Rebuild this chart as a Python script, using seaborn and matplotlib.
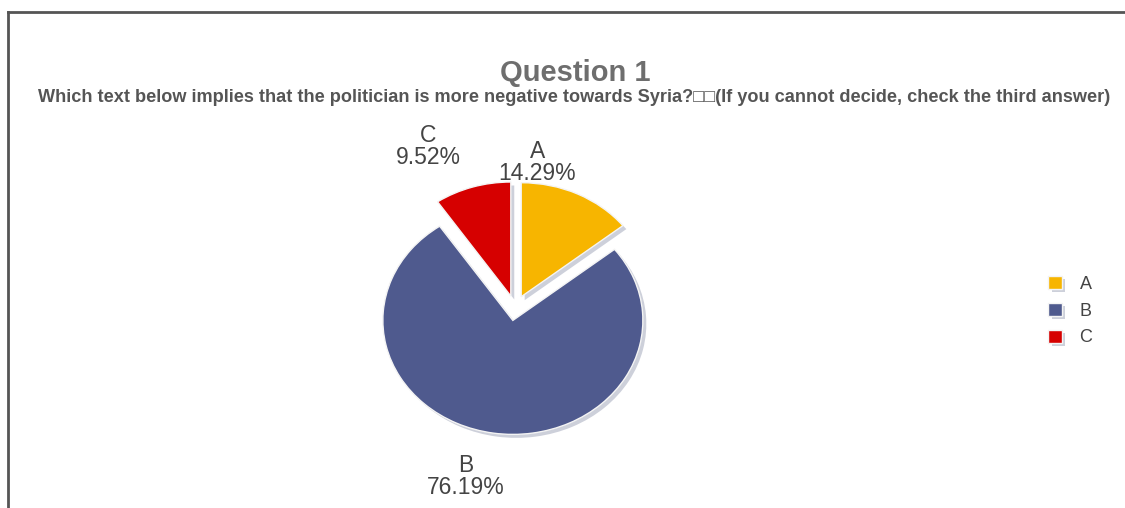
import matplotlib
matplotlib.use("Agg")
import matplotlib.pyplot as plt
import matplotlib.patheffects as pe
import seaborn as sns

# ---- data ----
categories = ["A", "B", "C"]
percentages = [14.29, 76.19, 9.52]
colors = ["#F7B500", "#4F5A8E", "#D60000"]
title = "Question 1"
subtitle = ("Which text below implies that the politician is more negative towards "
            "Syria?\u25a1\u25a1(If you cannot decide, check the third answer)")

# ---- style ----
sns.set_theme(style="white")
plt.rcParams["font.family"] = ["Liberation Sans", "DejaVu Sans"]

W, H = 1125, 508
fig = plt.figure(figsize=(W / 100, H / 100), dpi=100)
fig.patch.set_facecolor("white")

# frame (top + left lines)
ax_bg = fig.add_axes([8 / W, 0, 1 - 8 / W, (H - 12) / H])
ax_bg.set_xticks([]); ax_bg.set_yticks([])
for s in ["right", "bottom"]:
    ax_bg.spines[s].set_visible(False)
for s in ["top", "left"]:
    ax_bg.spines[s].set_color("#555555")
    ax_bg.spines[s].set_linewidth(2)
ax_bg.patch.set_alpha(0)

# pie axes: 1 data unit = 130 px horizontally, 114 px vertically
rx, ry = 130, 114
cx, cy = 515, 308  # pixel centre (from top)
lim = 2.0
aw, ah = 2 * lim * rx, 2 * lim * ry
ax = fig.add_axes([(cx - aw / 2) / W, (H - cy - ah / 2) / H, aw / W, ah / H])

shadow = [pe.SimplePatchShadow(offset=(2.5, -2.5), shadow_rgbFace="#b8bccb", alpha=0.7),
          pe.Normal()]
wedges, _ = ax.pie(percentages, colors=colors, startangle=90, counterclock=False,
                   explode=[0.11, 0.11, 0.11], labels=None,
                   wedgeprops=dict(edgecolor="#f4f4f4", linewidth=1.0,
                                   path_effects=shadow))
ax.set_aspect("auto")
ax.set_xlim(-lim, lim)
ax.set_ylim(-lim, lim)
ax.axis("off")

# label positions (data units relative to pie centre)
label_pos = {"A": (0.17, 1.28), "B": (-0.38, -1.48), "C": (-0.67, 1.42)}
for cat, pct in zip(categories, percentages):
    x, y = label_pos[cat]
    ax.text(x, y, f"{cat}\n{pct:.2f}%", ha="center", va="center",
            fontsize=16.5, color="#444444", linespacing=0.95, clip_on=False)

# titles
fig.text(575 / W, 1 - 73 / H, title, ha="center", va="center",
         fontsize=21, fontweight="bold", color="#6e6e6e")
fig.text(574 / W, 1 - 97 / H, subtitle, ha="center", va="center",
         fontsize=13.1, fontweight="bold", color="#555555")

# legend
leg = fig.legend(wedges, categories, loc="center left",
                 bbox_to_anchor=(1039 / W, 1 - 311 / H), frameon=False,
                 fontsize=13, handlelength=0.75, handleheight=0.75,
                 handletextpad=1.0, labelspacing=0.55, borderpad=0)
for t in leg.get_texts():
    t.set_color("#444444")

fig.savefig("out.png", dpi=100, facecolor="white")
